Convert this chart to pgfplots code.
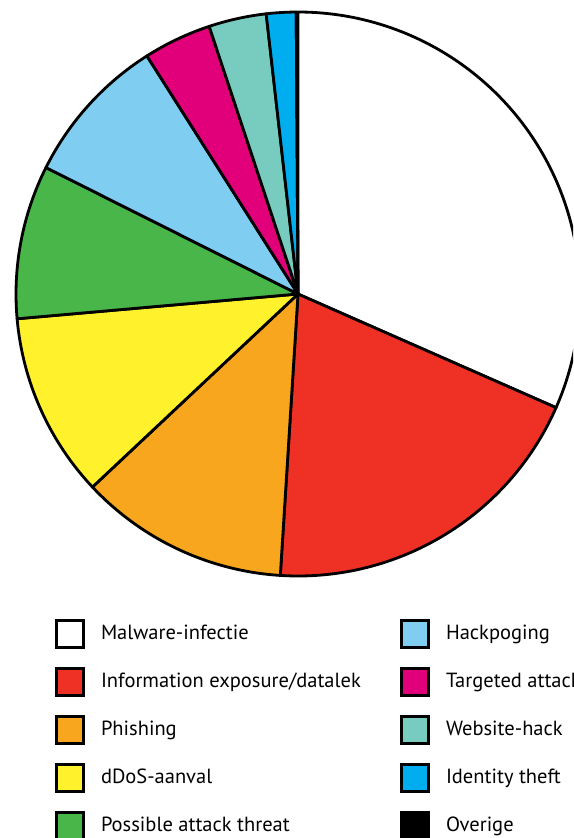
\documentclass[border=0pt]{standalone}
\usepackage{fontspec}
\setmainfont{PT Sans}
\usepackage{pgfplots}
\usepackage{pgfplotstable}
\pgfplotsset{compat=1.18}

\definecolor{cMalware}{RGB}{255,255,255}
\definecolor{cDatalek}{RGB}{238,49,36}
\definecolor{cPhishing}{RGB}{249,166,31}
\definecolor{cDdos}{RGB}{255,242,45}
\definecolor{cThreat}{RGB}{72,182,72}
\definecolor{cHack}{RGB}{127,205,241}
\definecolor{cTargeted}{RGB}{226,0,122}
\definecolor{cWebsite}{RGB}{120,203,191}
\definecolor{cIdentity}{RGB}{0,174,239}
\definecolor{cOverige}{RGB}{0,0,0}

% share in percent, clockwise from 12 o'clock
\pgfplotstableread{
share colour
31.6  cMalware
19.4  cDatalek
12.0  cPhishing
10.6  cDdos
8.8   cThreat
8.6   cHack
3.9   cTargeted
3.3   cWebsite
1.7   cIdentity
0.0   cOverige
}\piedata

% left legend column padded so the right column starts at the same x
\newcommand\lcol[1]{\makebox[283pt][l]{#1}}

\begin{document}
\begin{tikzpicture}
\useasboundingbox (0,0) rectangle (573pt,-838pt);
\clip (0,0) rectangle (573pt,-838pt);
\begin{axis}[
    at={(16pt,-576pt)}, anchor=south west,
    scale only axis, width=564pt, height=564pt,
    xmin=-1, xmax=1, ymin=-1, ymax=1,
    hide axis, clip=false,
    legend image code/.code={\draw[line width=3pt,#1] (1.5pt,-13.5pt) rectangle (28.5pt,13.5pt);},
    legend columns=2, legend cell align=left,
    legend style={at={(axis description cs:0.06915,-0.07535)}, anchor=north west,
        draw=none, fill=none, inner sep=0pt, outer sep=0pt,
        row sep=18pt, column sep=16pt,
        font=\fontsize{20.5}{24}\selectfont,
        nodes={inner sep=0pt, text height=14.5pt, text depth=3.5pt}},
]
\pgfplotsextra{
  \def\angleA{90}
  \foreach \i in {0,...,9}{
    \pgfplotstablegetelem{\i}{share}\of\piedata
    \let\v\pgfplotsretval
    \pgfplotstablegetelem{\i}{colour}\of\piedata
    \let\c\pgfplotsretval
    \pgfmathsetmacro\angleB{\angleA-3.6*\v}
    \draw[fill=\c, line width=2.8pt, line join=round]
      (axis cs:0,0) -- ([shift={(\angleA:282pt)}]axis cs:0,0)
      arc[start angle=\angleA, end angle=\angleB, radius=282pt] -- cycle;
    \xdef\angleA{\angleB}
  }
}
\addlegendimage{fill=cMalware, draw=black}
\addlegendentry{\lcol{Malware-infectie}}
\addlegendimage{fill=cHack, draw=black}
\addlegendentry{Hackpoging}
\addlegendimage{fill=cDatalek, draw=black}
\addlegendentry{\lcol{Information exposure/datalek}}
\addlegendimage{fill=cTargeted, draw=black}
\addlegendentry{Targeted attack}
\addlegendimage{fill=cPhishing, draw=black}
\addlegendentry{\lcol{Phishing}}
\addlegendimage{fill=cWebsite, draw=black}
\addlegendentry{Website-hack}
\addlegendimage{fill=cDdos, draw=black}
\addlegendentry{\lcol{dDoS-aanval}}
\addlegendimage{fill=cIdentity, draw=black}
\addlegendentry{Identity theft}
\addlegendimage{fill=cThreat, draw=black}
\addlegendentry{\lcol{Possible attack threat}}
\addlegendimage{fill=cOverige, draw=black}
\addlegendentry{Overige}
\end{axis}
\end{tikzpicture}
\end{document}
